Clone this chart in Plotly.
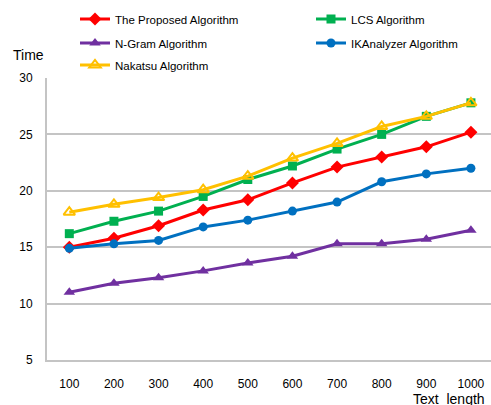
import plotly.graph_objects as go

categories = ["100", "200", "300", "400", "500", "600", "700", "800", "900", "1000"]
proposed = [15.0, 15.8, 16.9, 18.3, 19.2, 20.7, 22.1, 23.0, 23.9, 25.2]
lcs = [16.2, 17.3, 18.2, 19.5, 21.0, 22.2, 23.7, 25.0, 26.6, 27.8]
ngram = [11.0, 11.8, 12.3, 12.9, 13.6, 14.2, 15.3, 15.3, 15.7, 16.5]
ikanalyzer = [14.9, 15.3, 15.6, 16.8, 17.4, 18.2, 19.0, 20.8, 21.5, 22.0]
nakatsu = [18.1, 18.8, 19.4, 20.1, 21.3, 22.9, 24.2, 25.7, 26.6, 27.8]
y_ticks = [5, 10, 15, 20, 25, 30]

FONT = "Liberation Sans, Arial, sans-serif"
W, H = 491, 405
L, R, T, B = 47, 0, 78, 45

# name, values, colour, symbol, size, legend id, legend position (px)
series = [
    ("The Proposed Algorithm", proposed, "#FF0000", "diamond", 10, "legend", (75, 19)),
    ("LCS Algorithm", lcs, "#00B050", "square", 9, "legend2", (311, 19)),
    ("N-Gram Algorithm", ngram, "#7030A0", "triangle-up", 10, "legend3", (75, 43)),
    ("IKAnalyzer Algorithm", ikanalyzer, "#0070C0", "circle", 9, "legend4", (311, 43)),
    ("Nakatsu Algorithm", nakatsu, "#FFC000", "triangle-up-open", 10, "legend5", (75, 65)),
]

fig = go.Figure()
legends = {}
for name, vals, color, sym, size, lg, pos in series:
    marker = dict(symbol=sym, size=size, color=color)
    if sym.endswith("open"):
        marker["line"] = dict(color=color, width=2)
    fig.add_trace(go.Scatter(
        x=categories, y=vals, name=name, mode="lines+markers",
        line=dict(color=color, width=3), marker=marker, legend=lg,
    ))
    legends[lg] = dict(
        orientation="h", xref="container", yref="container",
        x=pos[0] / W, y=1 - pos[1] / H, xanchor="left", yanchor="middle",
        font=dict(family=FONT, size=11.5, color="black"),
        bgcolor="rgba(0,0,0,0)",
    )

def px_x(px):
    return (px - L) / (W - L - R)

def px_y(py):
    return (H - B - py) / (H - T - B)

fig.update_layout(
    width=W, height=H,
    margin=dict(l=L, r=R, t=T, b=B, autoexpand=False),
    paper_bgcolor="white", plot_bgcolor="white",
    font=dict(family=FONT, size=12, color="black"),
    showlegend=True,
    xaxis=dict(
        type="category", range=[-0.5, 9.45], automargin=False,
        showgrid=False, showline=True, linecolor="#C4C4C4", linewidth=2,
        zeroline=False,
        ticks="outside", ticklen=12, tickcolor="rgba(0,0,0,0)",
        tickfont=dict(size=12),
    ),
    yaxis=dict(
        range=[5, 30], tickvals=y_ticks, ticktext=[str(v) for v in y_ticks],
        automargin=False,
        showgrid=True, gridcolor="#C4C4C4", gridwidth=2,
        showline=True, linecolor="#C4C4C4", linewidth=2,
        zeroline=False, ticks="outside", ticklen=10, tickcolor="rgba(0,0,0,0)",
        tickfont=dict(size=12),
    ),
    annotations=[
        dict(text="Time", x=px_x(28), y=px_y(55), xref="paper", yref="paper",
             showarrow=False, font=dict(size=14), xanchor="center", yanchor="middle"),
        dict(text="Text\u00a0 length", x=px_x(449), y=px_y(399), xref="paper", yref="paper",
             showarrow=False, font=dict(size=14), xanchor="center", yanchor="middle"),
    ],
)
fig.update_layout(**legends)

fig.write_html("out.html", config={"displayModeBar": False},
               post_script="document.body.style.margin='0';")
